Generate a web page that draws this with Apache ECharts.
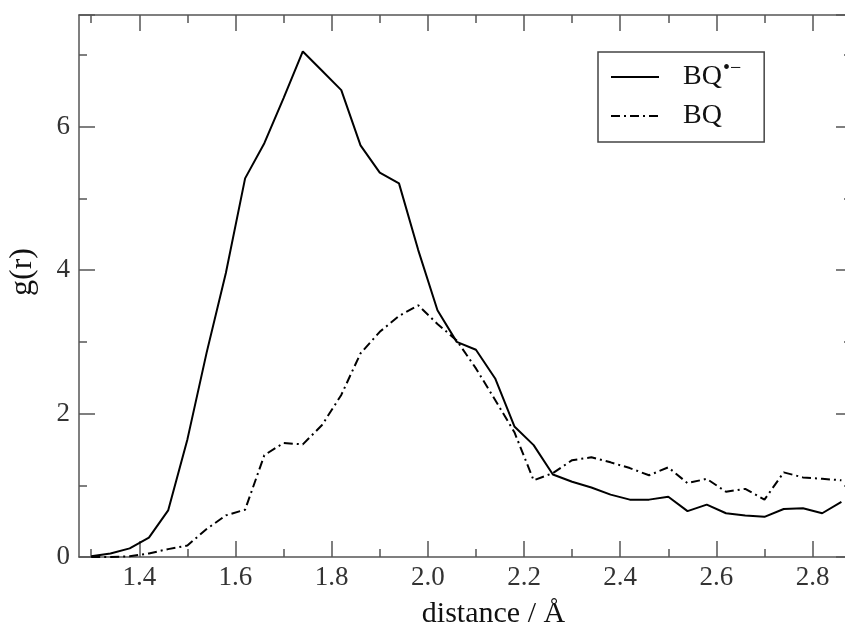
<!DOCTYPE html>
<html>
<head>
<meta charset="utf-8">
<script src="https://cdn.jsdelivr.net/npm/echarts@6/dist/echarts.min.js"></script>
<style>
  html, body { margin: 0; padding: 0; background: #fff; }
  #main { width: 845px; height: 628px; }
</style>
</head>
<body>
<div id="main"></div>
<script>
// distance (Angstrom) sampled every 0.04
var distance = [1.30, 1.34, 1.38, 1.42, 1.46, 1.50, 1.54, 1.58, 1.62, 1.66,
                1.70, 1.74, 1.78, 1.82, 1.86, 1.90, 1.94, 1.98, 2.02, 2.06,
                2.10, 2.14, 2.18, 2.22, 2.26, 2.30, 2.34, 2.38, 2.42, 2.46,
                2.50, 2.54, 2.58, 2.62, 2.66, 2.70, 2.74, 2.78, 2.82, 2.86];
// g(r) of the radical anion BQ•−
var gRadical = [0.01, 0.05, 0.12, 0.27, 0.65, 1.64, 2.85, 3.96, 5.28, 5.77,
                6.40, 7.05, 6.78, 6.51, 5.74, 5.36, 5.21, 4.28, 3.44, 3.00,
                2.89, 2.49, 1.82, 1.56, 1.15, 1.05, 0.97, 0.87, 0.80, 0.80,
                0.84, 0.64, 0.73, 0.61, 0.58, 0.56, 0.67, 0.68, 0.61, 0.77];
// g(r) of neutral BQ
var gNeutral = [0.00, 0.00, 0.01, 0.05, 0.11, 0.16, 0.39, 0.58, 0.66, 1.42,
                1.59, 1.57, 1.84, 2.26, 2.84, 3.14, 3.36, 3.51, 3.25, 3.02,
                2.63, 2.19, 1.74, 1.07, 1.17, 1.35, 1.39, 1.32, 1.24, 1.14,
                1.25, 1.03, 1.09, 0.91, 0.95, 0.80, 1.18, 1.11, 1.09, 1.07];
var xMajor = [1.4, 1.6, 1.8, 2.0, 2.2, 2.4, 2.6, 2.8];
var xMinor = [1.3, 1.5, 1.7, 1.9, 2.1, 2.3, 2.5, 2.7];

var X_MIN = 1.2746, X_MAX = 2.882;
var axisColor = "#555";
var font = "Liberation Serif";

function pairs(ys) {
  var out = [];
  for (var i = 0; i < distance.length; i++) {
    out.push([distance[i], ys[i]]);
  }
  return out;
}

// one x axis = one set of ticks (major or minor, top or bottom)
function xAxisOf(pos, ticks, len, showLine, withLabel) {
  return {
    type: "value",
    position: pos,
    min: X_MIN,
    max: X_MAX,
    axisLine: { show: showLine, onZero: false, lineStyle: { color: axisColor, width: 1.5 } },
    axisTick: { show: true, inside: true, length: len, customValues: ticks,
                lineStyle: { color: axisColor, width: 1.5 } },
    axisLabel: withLabel ? {
      show: true, customValues: ticks, margin: 7,
      fontFamily: font, fontSize: 27, color: "#333",
      formatter: function (v) { return v.toFixed(1); }
    } : { show: false },
    splitLine: { show: false }
  };
}

var chart = echarts.init(document.getElementById("main"));

var xAxes = [
  xAxisOf("bottom", xMajor, 16, true, true),
  xAxisOf("bottom", xMinor, 8, false, false),
  xAxisOf("top", xMajor, 16, true, false),
  xAxisOf("top", xMinor, 8, false, false)
];
xAxes[0].name = "distance / Å";
xAxes[0].nameLocation = "middle";
xAxes[0].nameGap = 42;
xAxes[0].nameTextStyle = { fontFamily: font, fontSize: 30, color: "#111", padding: [0, 0, 0, 56] };

function yAxisOf(pos, withLabel) {
  return {
    type: "value",
    position: pos,
    min: 0,
    max: 7.558,
    interval: 2,
    axisLine: { show: true, lineStyle: { color: axisColor, width: 1.5 } },
    axisTick: { inside: true, length: 16, lineStyle: { color: axisColor, width: 1.5 } },
    minorTick: { show: true, splitNumber: 2, length: 8, lineStyle: { color: axisColor, width: 1.5 } },
    axisLabel: withLabel ? {
      margin: 9, fontFamily: font, fontSize: 27, color: "#333",
      showMaxLabel: false
    } : { show: false },
    splitLine: { show: false }
  };
}

var yAxes = [yAxisOf("left", true), yAxisOf("right", false)];
yAxes[0].name = "g(r)";
yAxes[0].nameLocation = "middle";
yAxes[0].nameGap = 40;
yAxes[0].nameMoveOverlap = false;
yAxes[0].nameTextStyle = { fontFamily: font, fontSize: 32, color: "#111", padding: [0, 0, 0, 28] };

chart.setOption({
  animation: false,
  grid: { left: 79, right: -7, top: 15, bottom: 71, containLabel: false, outerBoundsMode: "none" },
  legend: {
    left: 598,
    top: 52,
    orient: "vertical",
    padding: [7, 23, 12, 12],
    itemWidth: 48,
    itemHeight: 14,
    itemGap: 11,
    borderColor: "#444",
    borderWidth: 1.5,
    borderRadius: 0,
    data: ["BQ•−", "BQ"],
    formatter: function (name) {
      if (name === "BQ•−") return "{a|BQ}{s|•−}";
      return "{a|BQ}";
    },
    textStyle: {
      rich: {
        a: { fontFamily: font, fontSize: 28, lineHeight: 28, color: "#111", padding: [0, 0, 0, 19] },
        s: { fontFamily: font, fontSize: 20, color: "#111", padding: [0, 0, 16, 1] }
      }
    }
  },
  xAxis: xAxes,
  yAxis: yAxes,
  series: [
    {
      name: "BQ•−",
      type: "line",
      xAxisIndex: 0,
      yAxisIndex: 0,
      data: pairs(gRadical),
      symbol: "none",
      lineStyle: { color: "#000", width: 2 },
      itemStyle: { color: "rgba(0,0,0,0)" }
    },
    {
      name: "BQ",
      type: "line",
      xAxisIndex: 0,
      yAxisIndex: 0,
      data: pairs(gNeutral),
      symbol: "none",
      lineStyle: { color: "#000", width: 2, type: [9, 4, 2, 4] },
      itemStyle: { color: "rgba(0,0,0,0)" }
    }
  ]
});
</script>
</body>
</html>
